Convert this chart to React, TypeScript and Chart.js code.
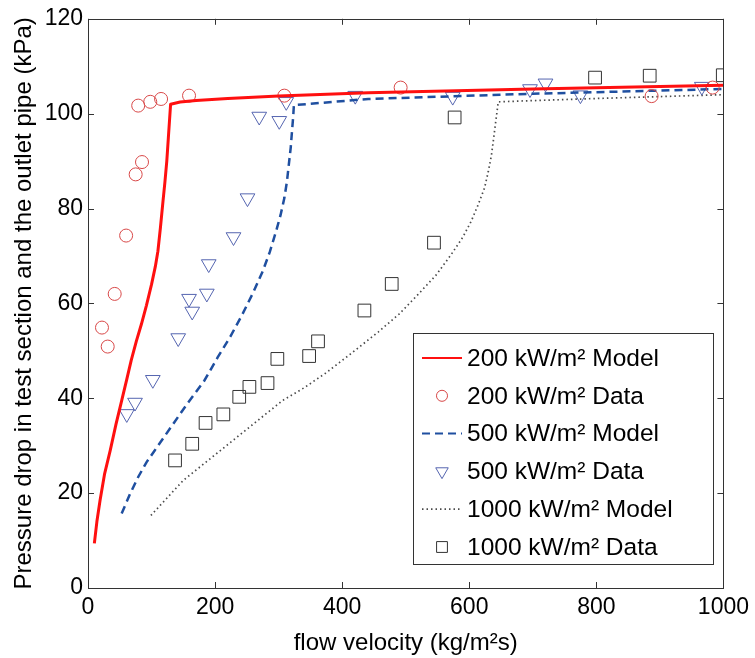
import React, { useEffect, useRef } from 'react';
import { Chart, registerables } from 'chart.js';

Chart.register(...registerables);

const FONT = '"Liberation Sans", Arial, Helvetica, sans-serif';

// Axis ticks
const xTickValues = [0, 200, 400, 600, 800, 1000];
const yTickValues = [0, 20, 40, 60, 80, 100, 120];

// Series labels
const seriesLabels = [
  '200 kW/m\u00B2 Model',
  '200 kW/m\u00B2 Data',
  '500 kW/m\u00B2 Model',
  '500 kW/m\u00B2 Data',
  '1000 kW/m\u00B2 Model',
  '1000 kW/m\u00B2 Data',
];

// 200 kW/m2 model
const model200X = [10, 14, 19, 26, 35, 44, 53, 61, 68, 76, 84, 92, 100, 106, 110, 114, 118, 121, 124, 126.5, 128.5, 130, 145, 170, 220, 300, 441, 700, 1000];
const model200Y = [9.4, 14, 18.5, 24, 29, 34.5, 39.5, 44, 48, 52, 55.6, 59.6, 64, 67.8, 71, 76, 81.5, 85.5, 90, 95, 99, 102, 102.45, 102.8, 103.2, 103.7, 104.4, 105.2, 106];

// 200 kW/m2 data
const data200X = [22, 31, 42, 60, 75, 85, 79, 98, 115, 159, 309, 492, 887, 983];
const data200Y = [54.9, 50.9, 62, 74.3, 87.2, 89.8, 101.7, 102.5, 103.1, 103.8, 103.8, 105.5, 103.7, 105.5];

// 500 kW/m2 model
const model500X = [53, 66, 79, 92, 105, 131, 157, 183, 204, 224, 243, 260, 275, 286, 296, 303, 309, 313, 316, 319, 321, 323, 324, 441, 700, 1000];
const model500Y = [15.7, 19.8, 23.4, 26.5, 29, 34, 39, 43.7, 48.6, 53, 57.7, 62.3, 66.8, 70.8, 75.2, 78.6, 82.2, 85.6, 89.2, 92.8, 96.2, 99.5, 101.8, 103.1, 104.2, 105.2];

// 500 kW/m2 data
const data500X = [61, 74, 102, 142, 159, 164, 187, 190, 229, 251, 269.5, 301, 312, 420.6, 574, 695.6, 720, 775, 966];
const data500Y = [36.7, 39.1, 43.9, 52.7, 61, 58.3, 62.1, 68.3, 74, 82.2, 99.4, 98.5, 102.5, 103.8, 103.6, 105.2, 106.4, 103.9, 105.7];

// 1000 kW/m2 model
const model1000X = [99, 150, 202, 254, 306, 340, 374, 410, 457, 490, 519.5, 548, 571.6, 590, 603, 614, 624, 630, 635, 638, 641, 643.5, 645.6, 800, 1000];
const model1000Y = [15.3, 22.7, 28.3, 33.9, 39.5, 42.2, 45.3, 49, 54, 57.8, 61.9, 66, 70.3, 74, 77.3, 80.8, 84.3, 87.8, 91.3, 94.4, 97.6, 100.2, 102.5, 103.2, 104];

// 1000 kW/m2 data
const data1000X = [137, 164, 185, 213, 238, 254, 282.5, 298, 348, 362, 435, 478, 544.5, 577, 798, 884, 999];
const data1000Y = [26.9, 30.4, 34.8, 36.6, 40.3, 42.4, 43.2, 48.3, 48.9, 52, 58.5, 64.1, 72.8, 99.2, 107.6, 108, 108.1];

const zip = (xs: number[], ys: number[]) => xs.map((x, i) => ({ x, y: ys[i] }));

const RED_LINE = '#ff1010';
const RED_MARK = '#d84848';
const BLUE_LINE = '#1f4fa0';
const BLUE_MARK = '#5565b0';
const DOT_LINE = '#4a4a4a';
const SQ_MARK = '#333333';

const framePlugin = {
  id: 'frame',
  afterDatasetsDraw(chart: any) {
    const { ctx, chartArea: a, scales } = chart;
    ctx.save();
    ctx.strokeStyle = '#333';
    ctx.lineWidth = 1;
    ctx.strokeRect(Math.round(a.left) + 0.5, Math.round(a.top) + 0.5, Math.round(a.right - a.left), Math.round(a.bottom - a.top));
    const tl = 6;
    ctx.beginPath();
    xTickValues.forEach((v) => {
      const px = Math.round(scales.x.getPixelForValue(v)) + 0.5;
      ctx.moveTo(px, a.bottom);
      ctx.lineTo(px, a.bottom - tl);
      ctx.moveTo(px, a.top);
      ctx.lineTo(px, a.top + tl);
    });
    yTickValues.forEach((v) => {
      const py = Math.round(scales.y.getPixelForValue(v)) + 0.5;
      ctx.moveTo(a.left, py);
      ctx.lineTo(a.left + tl, py);
      ctx.moveTo(a.right, py);
      ctx.lineTo(a.right - tl, py);
    });
    ctx.stroke();
    ctx.restore();
  },
};

function drawMarker(ctx: CanvasRenderingContext2D, style: string, x: number, y: number, r: number, color: string) {
  ctx.save();
  ctx.strokeStyle = color;
  ctx.lineWidth = 1;
  ctx.setLineDash([]);
  ctx.beginPath();
  if (style === 'circle') {
    ctx.arc(x, y, r, 0, Math.PI * 2);
  } else if (style === 'triangle') {
    const h = r;
    ctx.moveTo(x, y + h);
    ctx.lineTo(x - h * Math.sin(Math.PI / 3), y - h / 2);
    ctx.lineTo(x + h * Math.sin(Math.PI / 3), y - h / 2);
    ctx.closePath();
  } else {
    const s = r * Math.SQRT1_2;
    ctx.rect(x - s, y - s, 2 * s, 2 * s);
  }
  ctx.stroke();
  ctx.restore();
}

const legendPlugin = {
  id: 'boxLegend',
  afterDraw(chart: any) {
    const { ctx } = chart;
    const box = { left: 413, top: 333, right: 713, bottom: 564 };
    ctx.save();
    ctx.fillStyle = '#ffffff';
    ctx.fillRect(box.left, box.top, box.right - box.left, box.bottom - box.top);
    ctx.strokeStyle = '#333';
    ctx.lineWidth = 1;
    ctx.strokeRect(box.left + 0.5, box.top + 0.5, box.right - box.left, box.bottom - box.top);
    const rowH = 37.8;
    const y0 = box.top + 25;
    const sx0 = 422;
    const sx1 = 462;
    const tx = 467;
    chart.data.datasets.forEach((ds: any, i: number) => {
      const y = y0 + i * rowH;
      if (ds.showLine) {
        ctx.save();
        ctx.strokeStyle = ds.borderColor;
        ctx.lineWidth = Math.min(ds.borderWidth, 2);
        ctx.setLineDash(ds.borderDash || []);
        ctx.beginPath();
        ctx.moveTo(sx0, y);
        ctx.lineTo(sx1, y);
        ctx.stroke();
        ctx.restore();
      } else {
        drawMarker(ctx, ds.pointStyle, (sx0 + sx1) / 2, y, ds.pointRadius * 0.85, ds.pointBorderColor);
      }
      ctx.fillStyle = '#000';
      ctx.font = `24.5px ${FONT}`;
      ctx.textAlign = 'left';
      ctx.textBaseline = 'middle';
      ctx.fillText(ds.label, tx, y + 1);
    });
    ctx.restore();
  },
};

export default function App() {
  const canvasRef = useRef<HTMLCanvasElement | null>(null);

  useEffect(() => {
    document.body.style.margin = '0';
    const canvas = canvasRef.current;
    if (!canvas) return;
    const chart = new Chart(canvas, {
      type: 'scatter',
      data: {
        datasets: [
          {
            label: seriesLabels[0],
            data: zip(model200X, model200Y),
            showLine: true,
            borderColor: RED_LINE,
            borderWidth: 3,
            borderJoinStyle: 'round',
            pointRadius: 0,
            tension: 0,
          },
          {
            label: seriesLabels[1],
            data: zip(data200X, data200Y),
            showLine: false,
            pointStyle: 'circle',
            pointRadius: 6.5,
            pointBorderColor: RED_MARK,
            pointBackgroundColor: 'rgba(0,0,0,0)',
            pointBorderWidth: 1,
          },
          {
            label: seriesLabels[2],
            data: zip(model500X, model500Y),
            showLine: true,
            borderColor: BLUE_LINE,
            borderWidth: 2.5,
            borderDash: [8, 5],
            pointRadius: 0,
            tension: 0,
          },
          {
            label: seriesLabels[3],
            data: zip(data500X, data500Y),
            showLine: false,
            pointStyle: 'triangle',
            rotation: 180,
            pointRadius: 8.5,
            pointBorderColor: BLUE_MARK,
            pointBackgroundColor: 'rgba(0,0,0,0)',
            pointBorderWidth: 1,
          },
          {
            label: seriesLabels[4],
            data: zip(model1000X, model1000Y),
            showLine: true,
            borderColor: DOT_LINE,
            borderWidth: 1.7,
            borderDash: [1.5, 3],
            pointRadius: 0,
            tension: 0,
          },
          {
            label: seriesLabels[5],
            data: zip(data1000X, data1000Y),
            showLine: false,
            pointStyle: 'rect',
            pointRadius: 9,
            pointBorderColor: SQ_MARK,
            pointBackgroundColor: 'rgba(0,0,0,0)',
            pointBorderWidth: 1,
          },
        ] as any,
      },
      options: {
        responsive: false,
        animation: false,
        devicePixelRatio: 1,
        layout: { padding: { top: 17, right: 28, left: 0, bottom: 0 } },
        plugins: {
          legend: { display: false },
          tooltip: { enabled: false },
        },
        scales: {
          x: {
            type: 'linear',
            min: 0,
            max: 1000,
            grid: { display: false, drawTicks: false },
            border: { display: false },
            ticks: {
              stepSize: 200,
              color: '#000',
              padding: 6,
              maxRotation: 0,
              font: { family: FONT, size: 23 },
              callback: (v: any) => String(v),
            },
            title: {
              display: true,
              text: 'flow velocity (kg/m\u00B2s)',
              color: '#000',
              font: { family: FONT, size: 24 },
              padding: { top: 4, bottom: 0 },
            },
            afterFit(s: any) {
              s.height = 70;
            },
          },
          y: {
            type: 'linear',
            min: 0,
            max: 120,
            grid: { display: false, drawTicks: false },
            border: { display: false },
            ticks: {
              stepSize: 20,
              color: '#000',
              padding: 5,
              font: { family: FONT, size: 23 },
              callback: (v: any) => String(v),
            },
            title: {
              display: true,
              text: 'Pressure drop in test section and the outlet pipe (kPa)',
              color: '#000',
              font: { family: FONT, size: 24 },
              padding: { top: 10, bottom: 0 },
            },
            afterFit(s: any) {
              s.width = 88;
            },
          },
        },
      } as any,
      plugins: [framePlugin, legendPlugin],
    });
    return () => chart.destroy();
  }, []);

  return (
    <div style={{ width: 755, height: 658 }}>
      <canvas ref={canvasRef} width={755} height={658} style={{ display: 'block' }} />
    </div>
  );
}
